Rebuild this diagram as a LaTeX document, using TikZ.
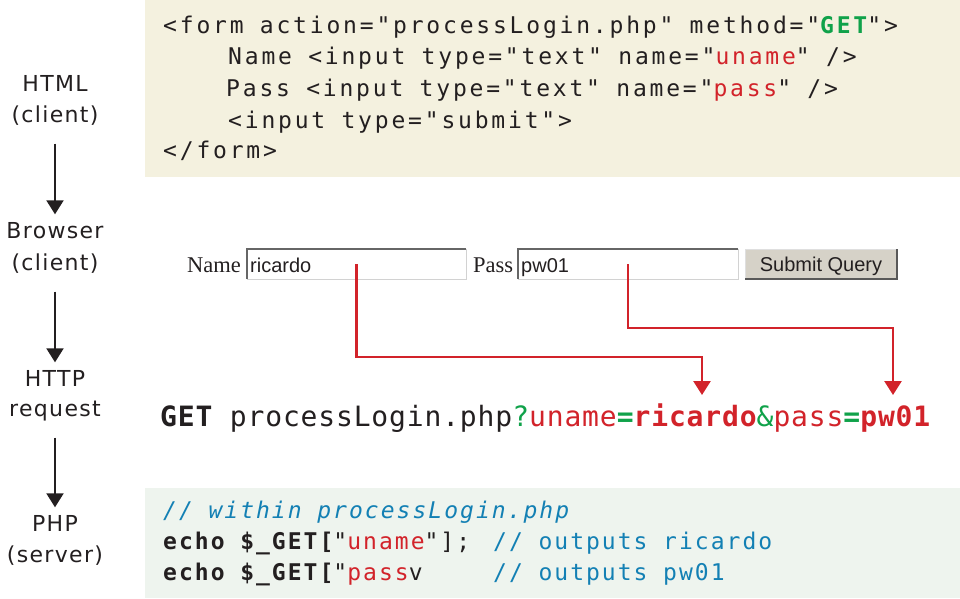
\documentclass[tikz,border=0pt]{standalone}
\usepackage{fontspec}
\usetikzlibrary{arrows.meta,calc}
\newfontfamily\monoTop[LetterSpace=12.2]{DejaVu Sans Mono}
\newfontfamily\monoBot[LetterSpace=8.8]{DejaVu Sans Mono}
\newfontfamily\monoGet[LetterSpace=3]{DejaVu Sans Mono}
\newfontfamily\sansLab[LetterSpace=6]{DejaVu Sans}
\newfontfamily\serifB{Liberation Serif}
\newfontfamily\sansB{Liberation Sans}
\newcommand\topfont{\monoTop\fontsize{23}{27}\selectfont\spaceskip=16.3pt\relax}
\newcommand\botfont{\monoBot\fontsize{23}{27}\selectfont\spaceskip=15.6pt\relax}
\newcommand\getfont{\monoGet\fontsize{28}{32}\selectfont\spaceskip=17.5pt\relax}
\newcommand\labfont{\sansLab\fontsize{22}{26}\selectfont}
\definecolor{bgtop}{HTML}{F4F1DF}
\definecolor{bgbot}{HTML}{EEF4EE}
\definecolor{cred}{HTML}{D2232A}
\definecolor{cgreen}{HTML}{10A24A}
\definecolor{cblue}{HTML}{1380B4}
\definecolor{cdark}{HTML}{231F20}
\definecolor{btn}{HTML}{D6D2C8}
\tikzset{
  code/.style={anchor=base west, inner sep=0pt, text=cdark},
  lab/.style={anchor=base, inner sep=0pt, text=cdark, font=\labfont, text height=16pt, text depth=5pt},
  flow/.style={-{Triangle[width=17pt,length=14pt]}, line width=2pt, draw=cdark, shorten <=16.5pt, shorten >=7.5pt},
  redflow/.style={-{Triangle[width=17pt,length=14pt]}, line width=2.6pt, draw=cred},
}
\begin{document}
\begin{tikzpicture}[x=1pt,y=-1pt]
\useasboundingbox (0,0) rectangle (960,598);
% backgrounds
\fill[bgtop] (145,0) rectangle (960,177);
\fill[bgbot] (145,488) rectangle (960,598);

% left labels
\node[lab] (l1a) at (55,91) {HTML};
\node[lab] (l1b) at (55,122) {(client)};
\node[lab] (l2a) at (55,238) {Browser};
\node[lab] (l2b) at (55,270) {(client)};
\node[lab] (l3a) at (55,386) {HTTP};
\node[lab] (l3b) at (55,416) {request};
\node[lab] (l4a) at (55,531) {PHP};
\node[lab] (l4b) at (55,562) {(server)};
\draw[flow] (l1b.south) -- (l2a.north);
\draw[flow] (l2b.south) -- (l3a.north);
\draw[flow] (l3b.south) -- (l4a.north);

% top HTML code
\node[code] (h1) at (163,33) {\topfont <form action="processLogin.php" method="{\color{cgreen}\bfseries GET}">};
\node[code] (h2) at (228,64) {\topfont Name <input type="text" name="{\color{cred}uname}" />};
\node[code] (h3) at (226,96) {\topfont Pass <input type="text" name="{\color{cred}pass}" />};
\node[code] (h4) at (228,128) {\topfont <input type="submit">};
\node[code] (h5) at (163,158) {\topfont </form>};

% browser form
\node[code, font=\serifB\fontsize{22.5}{26}\selectfont] (fname) at (187,272) {Name};
\draw[fill=white, draw=gray!35, line width=1pt] (247,249) rectangle (466,279);
\draw[gray!80!black, line width=1.2pt] (247,279) -- (247,249) -- (466,249);
\node[inner sep=0pt] (namebox) at (356.5,264) {};
\node[code, font=\sansB\fontsize{20}{24}\selectfont] (fricardo) at (250,272) {ricardo};
\node[code, font=\serifB\fontsize{22.5}{26}\selectfont] (fpass) at (473,272) {Pass};
\draw[fill=white, draw=gray!35, line width=1pt] (518,249) rectangle (738,279);
\draw[gray!80!black, line width=1.2pt] (518,279) -- (518,249) -- (738,249);
\node[inner sep=0pt] (passbox) at (628,264) {};
\node[code, font=\sansB\fontsize{20}{24}\selectfont] (fpw) at (521,272) {pw01};
\draw[fill=btn, draw=gray!25, line width=1pt] (745,249) rectangle (897,279);
\draw[gray!70!black, line width=1.5pt] (745,279) -- (897,279) -- (897,249);
\node[anchor=base, inner sep=0pt, text=cdark, font=\sansB\fontsize{20}{24}\selectfont] (submit) at (821,271) {Submit Query};

% HTTP request
\node[code] (get) at (160,426) {\getfont{\bfseries GET} processLogin.php{\color{cgreen}?}{\color{cred}uname}{\color{cgreen}\bfseries =}{\color{cred}\bfseries ricardo}{\color{cgreen}\&}{\color{cred}pass}{\color{cgreen}\bfseries =}{\color{cred}\bfseries pw01}};
\coordinate (bendR) at (702,357);
\coordinate (tipR) at (702,395);
\coordinate (bendP) at (893,328);
\coordinate (tipP) at (893,395);
\draw[redflow] (namebox.center) |- (bendR) -- (tipR);
\draw[redflow] (passbox.center) |- (bendP) -- (tipP);

% PHP code
\node[code] (p1) at (163,518) {\botfont\color{cblue}\itshape // within processLogin.php};
\node[code] (p2) at (163,549) {\botfont{\bfseries echo \$\_GET[}"{\color{cred}uname}"];};
\node[code] (p2c) at (493,549) {\botfont\color{cblue}// outputs ricardo};
\node[code] (p3) at (163,580) {\botfont{\bfseries echo \$\_GET[}"{\color{cred}pass}v};
\node[code] (p3c) at (493,580) {\botfont\color{cblue}// outputs pw01};
\end{tikzpicture}
\end{document}
